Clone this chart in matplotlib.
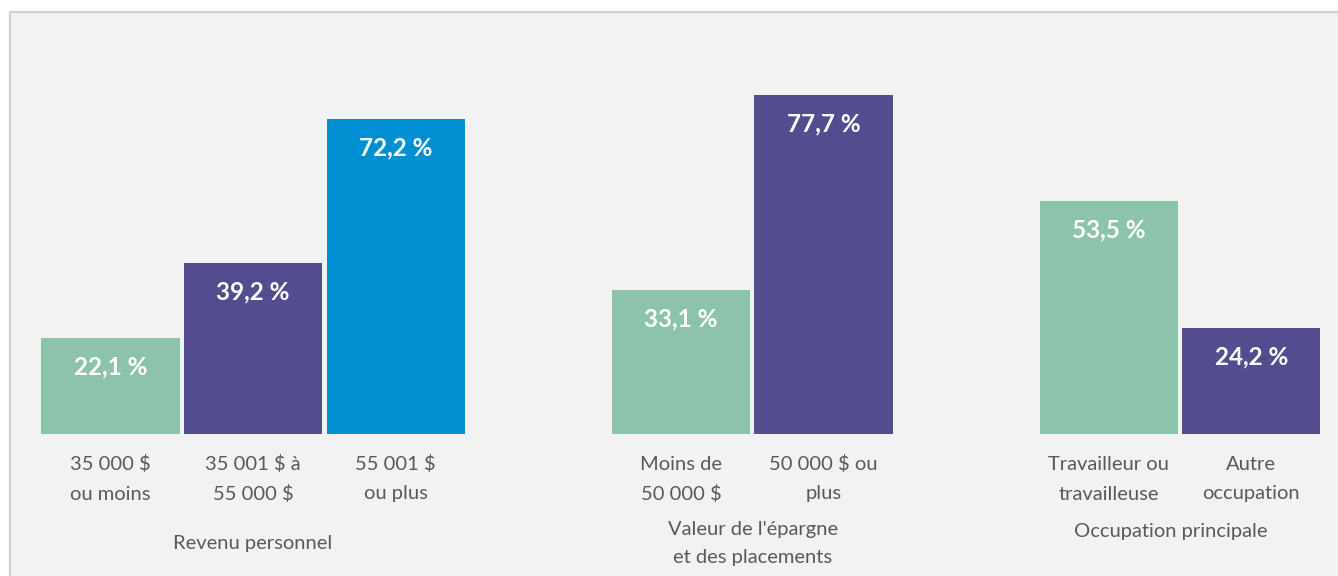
import matplotlib
matplotlib.use("Agg")
import matplotlib.pyplot as plt
from matplotlib.patches import Rectangle

plt.rcParams['font.family'] = ['Lato', 'DejaVu Sans']

# Data
categories = ["35 000 $\nou moins", "35 001 $ à\n55 000 $", "55 001 $\nou plus",
              "Moins de\n50 000 $", "50 000 $ ou\nplus",
              "Travailleur ou\ntravailleuse", "Autre\noccupation"]
values = [22.1, 39.2, 72.2, 33.1, 77.7, 53.5, 24.2]
value_labels = ["22,1 %", "39,2 %", "72,2 %", "33,1 %", "77,7 %", "53,5 %", "24,2 %"]
groups = ["Revenu personnel", "Valeur de l'épargne\net des placements", "Occupation principale"]
group_members = [[0, 1, 2], [3, 4], [5, 6]]

GREEN, PURPLE, BLUE = "#8EC3AB", "#534C8F", "#008FD0"
colors = [GREEN, PURPLE, BLUE, GREEN, PURPLE, GREEN, PURPLE]
positions = [0, 1, 2, 4, 5, 7, 8]

W, H = 1338, 576
fig = plt.figure(figsize=(W / 100, H / 100), dpi=100)
fig.patch.set_facecolor("white")

ax = fig.add_axes([0, 0, 1, 1])
ax.set_facecolor("none")
ax.add_patch(Rectangle((10 / W, -0.1), 1.2, 1.1 - 12 / H, transform=fig.transFigure,
                       facecolor="#F2F2F2", edgecolor="#D0D0D0", linewidth=1.6,
                       zorder=0, clip_on=False))
step = 142.6
x0 = 110.5
ax.set_xlim(-x0 / step, (W - x0) / step)
ppu = 315 / 72.2
base = 434
ax.set_ylim(-(H - base) / ppu, base / ppu)
ax.axis("off")

bars = ax.bar(positions, values, width=0.968, color=colors, edgecolor="none", zorder=2)

lab_off = 29 / ppu
for p, v, t in zip(positions, values, value_labels):
    ax.text(p, v - lab_off, t, ha="center", va="center", color="white",
            fontsize=17.5, fontweight="bold", zorder=3)

for p, c in zip(positions, categories):
    lines = c.split("\n")
    for i, ln in enumerate(lines):
        ax.text(p, -(464 + 30 * i - base) / ppu, ln, ha="center", va="center",
                color="#595959", fontsize=14.5)

group_y = [[544], [529, 558], [531]]
group_x = [253, 753, 1171]
for g, gy, gx in zip(groups, group_y, group_x):
    for ln, yy in zip(g.split("\n"), gy):
        ax.text((gx - x0) / step, -(yy - base) / ppu, ln, ha="center", va="center",
                color="#595959", fontsize=14.5)

fig.savefig("out.png", dpi=100, facecolor=fig.get_facecolor())
